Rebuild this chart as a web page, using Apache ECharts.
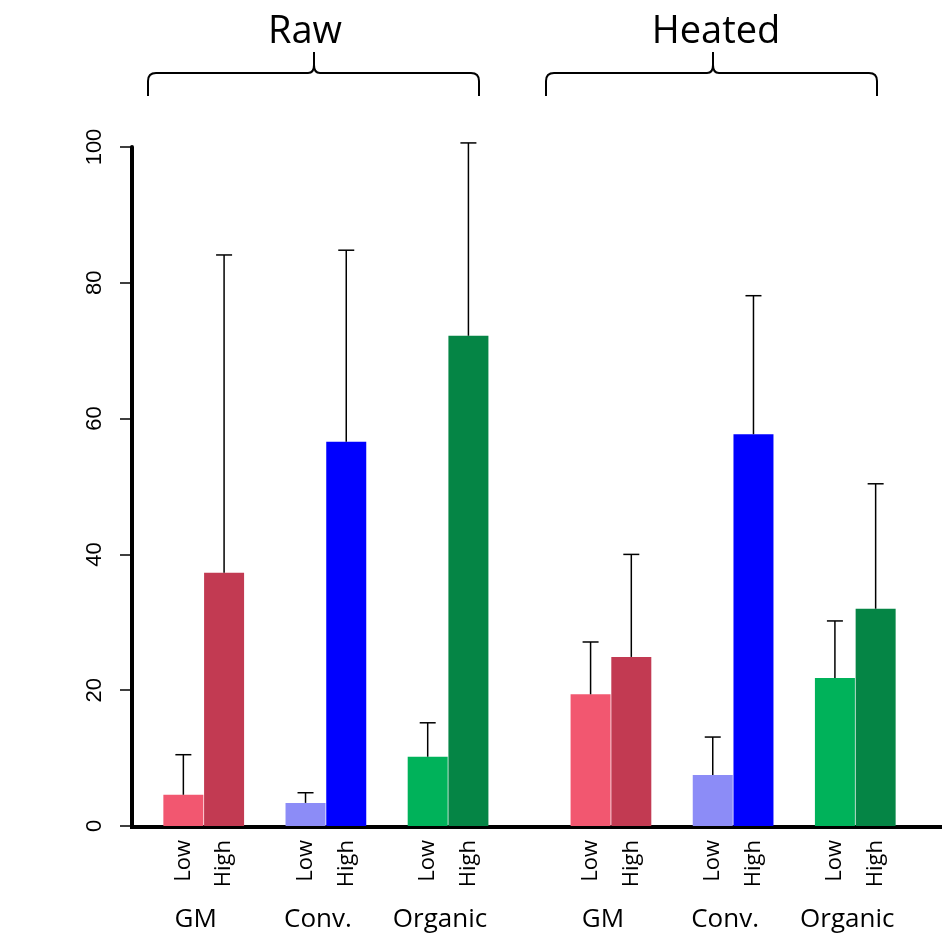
<!DOCTYPE html>
<html>
<head>
<meta charset="utf-8">
<script src="https://cdn.jsdelivr.net/npm/echarts@6/dist/echarts.min.js"></script>
<style>
  html, body { margin: 0; background: #fff; }
  #chart { width: 942px; height: 935px; }
</style>
</head>
<body>
<div id="chart"></div>
<script>
// values: means and top of the error bar
const treatments = ['Raw', 'Heated'];
const foods = ['GM', 'Conv.', 'Organic'];
const levels = ['Low', 'High'];
const rawLow = [4.6, 3.4, 10.2];
const rawHigh = [37.3, 56.6, 72.2];
const rawLowErr = [10.5, 4.9, 15.2];
const rawHighErr = [84.1, 84.8, 100.6];
const heatedLow = [19.4, 7.5, 21.8];
const heatedHigh = [24.9, 57.7, 32.0];
const heatedLowErr = [27.1, 13.1, 30.2];
const heatedHighErr = [40.0, 78.1, 50.4];
const yTicks = [0, 20, 40, 60, 80, 100];

const lowColors = ['#f25770', '#8c8cf7', '#00b25a'];
const highColors = ['#c23a52', '#0000ff', '#058545'];

const means = [[rawLow, rawHigh], [heatedLow, heatedHigh]];
const errs = [[rawLowErr, rawHighErr], [heatedLowErr, heatedHighErr]];
const colors = [lowColors, highColors];

// lay the bars out in slots, with empty slots between the groups
const slots = [];
const groupBounds = [];
treatments.forEach((t, ti) => {
  foods.forEach((f, fi) => {
    if (ti > 0 || fi > 0) slots.push(null);
    if (ti > 0 && fi === 0) slots.push(null);
    groupBounds.push({ at: slots.length + 1, label: f });
    levels.forEach((lv, li) => {
      slots.push({
        label: lv,
        value: means[ti][li][fi],
        err: errs[ti][li][fi],
        color: colors[li][fi]
      });
    });
  });
});

const boundaryLabels = [];
for (let i = 0; i <= slots.length; i++) boundaryLabels.push('');
groupBounds.forEach(g => { boundaryLabels[g.at] = g.label; });

const errData = [];
slots.forEach((s, i) => { if (s) errData.push([i, s.value, s.err]); });

const chart = echarts.init(document.getElementById('chart'));

// curly brace over a treatment, built from lines and quadratic curves
const brace = (L, C, R) => {
  const yb = 96, yh = 73, yt = 52, r = 8;
  const st = { stroke: '#000', lineWidth: 2, fill: null };
  const line = (x1, y1, x2, y2) => ({ type: 'line', shape: { x1, y1, x2, y2 }, style: st });
  const curve = (x1, y1, cpx1, cpy1, x2, y2) => ({ type: 'bezierCurve', shape: { x1, y1, cpx1, cpy1, x2, y2 }, style: st });
  return {
    type: 'group',
    children: [
      line(L, yb, L, yh + r),
      curve(L, yh + r, L, yh, L + r, yh),
      line(L + r, yh, C - 6, yh),
      curve(C - 6, yh, C, yh, C, yh - r),
      line(C, yh - r, C, yt),
      curve(C, yh - r, C, yh, C + 6, yh),
      line(C + 6, yh, R - r, yh),
      curve(R - r, yh, R, yh, R, yh + r),
      line(R, yh + r, R, yb)
    ]
  };
};

const option = {
  animation: false,
  grid: { left: 163, right: 46, top: 147, bottom: 109 },
  xAxis: [
    {
      type: 'category',
      data: slots.map(s => (s ? s.label : '')),
      axisLine: { show: false },
      axisTick: { show: false },
      axisLabel: {
        interval: 0,
        rotate: 90,
        margin: 14,
        color: '#000',
        fontFamily: 'Open Sans',
        fontSize: 22
      }
    },
    {
      type: 'category',
      position: 'bottom',
      boundaryGap: false,
      data: boundaryLabels,
      axisLine: { show: false },
      axisTick: { show: false },
      axisLabel: {
        interval: 0,
        margin: 81,
        padding: [0, 16, 0, 0],
        color: '#000',
        fontFamily: 'Open Sans',
        fontSize: 26
      }
    }
  ],
  yAxis: {
    type: 'value',
    min: yTicks[0],
    max: yTicks[yTicks.length - 1],
    interval: 20,
    offset: 31,
    axisLine: { show: true, lineStyle: { color: '#000', width: 4 } },
    axisTick: { show: true, length: 12, lineStyle: { color: '#000', width: 1.5 } },
    splitLine: { show: false },
    axisLabel: {
      rotate: 90,
      margin: 26,
      color: '#000',
      fontFamily: 'Liberation Sans',
      fontSize: 22
    }
  },
  series: [
    {
      type: 'bar',
      xAxisIndex: 0,
      barWidth: 40,
      data: slots.map(s => (s ? { value: s.value, itemStyle: { color: s.color } } : '-'))
    },
    {
      type: 'custom',
      xAxisIndex: 0,
      data: errData,
      encode: { x: 0, y: [1, 2] },
      z: 3,
      renderItem: (params, api) => {
        const base = api.coord([api.value(0), api.value(1)]);
        const top = api.coord([api.value(0), api.value(2)]);
        const half = 8;
        return {
          type: 'group',
          children: [
            { type: 'line', shape: { x1: base[0], y1: base[1], x2: top[0], y2: top[1] }, style: { stroke: '#000', lineWidth: 1.5 } },
            { type: 'line', shape: { x1: top[0] - half, y1: top[1], x2: top[0] + half, y2: top[1] }, style: { stroke: '#000', lineWidth: 1.5 } }
          ]
        };
      }
    }
  ],
  graphic: [
    { type: 'line', shape: { x1: 130, y1: 827, x2: 942, y2: 827 }, style: { stroke: '#000', lineWidth: 4 } },
    brace(148, 314, 479),
    brace(546, 713, 877),
    { type: 'text', x: 305, y: 32, style: { text: treatments[0], font: '38px "Open Sans"', align: 'center', verticalAlign: 'middle', fill: '#000' } },
    { type: 'text', x: 716, y: 32, style: { text: treatments[1], font: '38px "Open Sans"', align: 'center', verticalAlign: 'middle', fill: '#000' } }
  ]
};

chart.setOption(option);
</script>
</body>
</html>
